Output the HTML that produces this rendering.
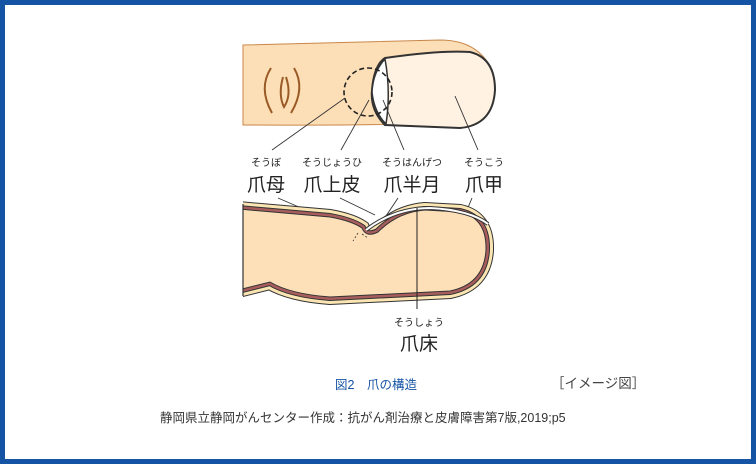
<!DOCTYPE html>
<html><head><meta charset="utf-8"><style>
html,body{margin:0;padding:0;}
body{width:756px;height:464px;overflow:hidden;background:#fff;font-family:"Liberation Sans","Noto Sans CJK JP",sans-serif;}
.frame{position:absolute;left:0;top:0;width:746px;height:454px;border:5px solid #1553a5;}
</style></head><body>
<div class="frame"></div>
<svg width="756" height="464" style="position:absolute;left:0;top:0" font-family="Liberation Sans, Noto Sans CJK JP, sans-serif">
<defs><clipPath id="c"><rect x="243" y="0" width="400" height="464"/></clipPath></defs>
<path d="M243,45 L440,40 Q478,40 492,70 Q500,105 470,120 Q440,126 243,125 Z" fill="#fddfb7" stroke="#c8874a" stroke-width="1"/>
<path d="M271,68 Q258,88 272,113 M294,68 Q306,88 291,113 M283,77 Q278,95 284,107 Q292,95 286,77" fill="none" stroke="#9a5a25" stroke-width="2"/>
<path d="M385,58 Q440,50 470,52 Q495,58 495,90 Q493,125 460,128 L385,125 Q370,110 372,90 Q374,65 385,58 Z" fill="#fff2e2" stroke="#333" stroke-width="2"/>
<path d="M385,59 Q373,72 372,92 Q374,112 386,124 Q391,92 385,59Z" fill="#fff" stroke="#333" stroke-width="1.5"/>
<circle cx="368" cy="92" r="24" fill="none" stroke="#222" stroke-width="1.6" stroke-dasharray="5,3"/>
<g stroke="#333" stroke-width="0.9">
<line x1="272" y1="150" x2="345" y2="98"/><line x1="341" y1="150" x2="369" y2="100"/>
<line x1="404" y1="150" x2="383" y2="100"/><line x1="478" y1="150" x2="455" y2="96"/>
<line x1="278" y1="198" x2="352" y2="230"/><line x1="340" y1="198" x2="375" y2="215"/>
<line x1="398" y1="198" x2="386" y2="216"/><line x1="472" y1="198" x2="467" y2="210"/>
</g>
<g fill="#222" text-anchor="middle">
<text x="266" y="166" font-size="10">そうぼ</text>
<text x="332" y="166" font-size="10">そうじょうひ</text>
<text x="412" y="166" font-size="10">そうはんげつ</text>
<text x="484" y="166" font-size="10">そうこう</text>
<text x="266" y="191" font-size="19">爪母</text>
<text x="332" y="191" font-size="19">爪上皮</text>
<text x="412" y="191" font-size="19">爪半月</text>
<text x="484" y="191" font-size="19">爪甲</text>
<text x="419" y="326" font-size="10">そうしょう</text>
<text x="419" y="350" font-size="19">爪床</text>
</g>
<g clip-path="url(#c)" fill="none">
<path d="M238,209 L330,217 Q352,221 362,228 Q366,238 378,232 Q398,212 425,210 L460,212 Q487,218 486,250 Q484,284 450,291 L330,297 Q290,294 270,282 L238,290" stroke="#333" stroke-width="16"/>
<path d="M238,209 L330,217 Q352,221 362,228 Q366,238 378,232 Q398,212 425,210 L460,212 Q487,218 486,250 Q484,284 450,291 L330,297 Q290,294 270,282 L238,290" stroke="#fbe6b3" stroke-width="14"/>
<path d="M238,209 L330,217 Q352,221 362,228 Q366,238 378,232 Q398,212 425,210 L460,212 Q487,218 486,250 Q484,284 450,291 L330,297 Q290,294 270,282 L238,290" stroke="#333" stroke-width="8"/>
<path d="M238,209 L330,217 Q352,221 362,228 Q366,238 378,232 Q398,212 425,210 L460,212 Q487,218 486,250 Q484,284 450,291 L330,297 Q290,294 270,282 L238,290" stroke="#a85d5d" stroke-width="6"/>
<path d="M238,209 L330,217 Q352,221 362,228 Q366,238 378,232 Q398,212 425,210 L460,212 Q487,218 486,250 Q484,284 450,291 L330,297 Q290,294 270,282 L238,290 Z" fill="#fde0b8" stroke="#333" stroke-width="1"/>
</g>
<line x1="243" y1="204" x2="243" y2="296" stroke="#333" stroke-width="1.2"/>
<path d="M366,230 Q395,208 430,208 Q470,210 488,224" fill="none" stroke="#333" stroke-width="4"/>
<path d="M366,230 Q395,208 430,208 Q470,210 488,224" fill="none" stroke="#fff" stroke-width="2"/>
<path d="M358,233 L353,241 M362,234 L368,238" stroke="#333" stroke-width="0.8" stroke-dasharray="2,2"/>
<line x1="417" y1="208" x2="417" y2="309" stroke="#222" stroke-width="1"/>
<text x="335" y="389" font-size="12.5" fill="#1553a5">図2　爪の構造</text>
<text x="551" y="388" font-size="13.5" fill="#444">［イメージ図］</text>
<text x="160" y="422" font-size="12.5" fill="#333">静岡県立静岡がんセンター作成：抗がん剤治療と皮膚障害第7版,2019;p5</text>
</svg>
</body></html>
